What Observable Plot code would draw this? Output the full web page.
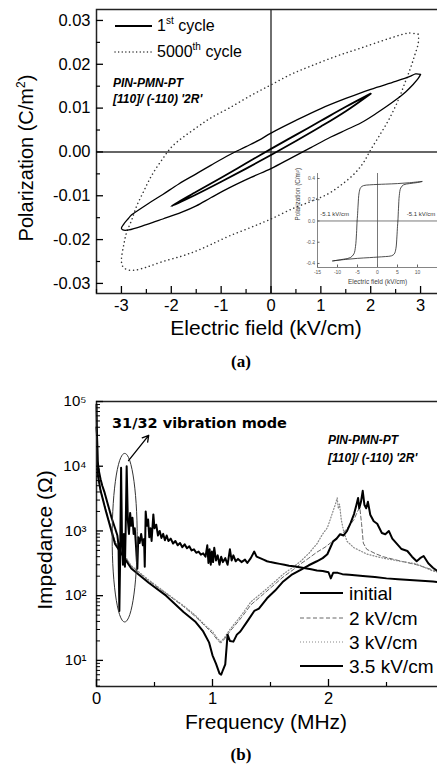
<!DOCTYPE html>
<html><head><meta charset="utf-8">
<script src="https://cdn.jsdelivr.net/npm/d3@7"></script>
<script src="https://cdn.jsdelivr.net/npm/@observablehq/plot@0.6"></script>
<style>
html,body{margin:0;padding:0;background:#fff;overflow:hidden}
#wrap{position:relative;width:437px;height:769px;overflow:hidden;font-family:"Liberation Sans",Arial,sans-serif;color:#000;background:#fff}
.abs{position:absolute;white-space:nowrap;line-height:1}
svg{max-width:none !important}
</style></head><body><div id="wrap"></div>
<script>
// ---------- Panel (a) data: E (kV/cm), P (C/m^2) ----------
const cycle1Outer = [[3.0,0.0177],[2.9,0.0178],[2.8,0.0173],[2.5,0.0161],[2.0,0.0143],[1.5,0.0122],[1.0,0.0099],[0.5,0.0072],[0,0.0043],[-0.24,0.0027],[-0.5,0.0012],[-0.84,-0.0007],[-1.2,-0.0030],[-1.5,-0.0050],[-1.85,-0.0073],[-2.17,-0.0097],[-2.45,-0.0117],[-2.7,-0.0136],[-2.8,-0.0144],[-2.87,-0.0153],[-2.95,-0.0164],[-3.0,-0.0174],[-2.97,-0.0178],[-2.85,-0.0178],[-2.5,-0.0166],[-2.17,-0.0153],[-1.8,-0.0138],[-1.5,-0.0123],[-1.2,-0.0104],[-0.84,-0.0082],[-0.4,-0.0058],[0,-0.0038],[0.4,-0.0014],[0.8,0.0010],[1.2,0.0034],[1.5,0.0050],[1.8,0.0066],[2.1,0.0087],[2.47,0.0116],[2.7,0.0137],[2.85,0.0154],[2.95,0.0167],[3.0,0.0177]];
const cycle1Inner = [[2.0,0.0133],[1.5,0.0103],[1.0,0.0071],[0.5,0.0039],[0,0.0007],[-0.5,-0.0026],[-1.0,-0.0059],[-1.5,-0.0091],[-2.0,-0.0124],[-1.5,-0.0097],[-1.0,-0.0068],[-0.5,-0.0038],[0,-0.0007],[0.5,0.0025],[1.0,0.0058],[1.5,0.0093],[2.0,0.0133]];
const cycle5000 = [[2.95,0.0269],[2.75,0.0271],[2.4,0.0260],[1.8,0.0237],[1.3,0.0218],[0.8,0.0196],[0.4,0.0177],[0,0.0153],[-0.4,0.0129],[-0.84,0.0100],[-1.2,0.0078],[-1.5,0.0055],[-1.97,0.0014],[-2.2,-0.0020],[-2.4,-0.0055],[-2.55,-0.0089],[-2.7,-0.0125],[-2.8,-0.0157],[-2.9,-0.0185],[-2.95,-0.0210],[-3.0,-0.0249],[-2.97,-0.0262],[-2.9,-0.0268],[-2.75,-0.0270],[-2.5,-0.0263],[-2.17,-0.0250],[-1.8,-0.0238],[-1.5,-0.0226],[-1.2,-0.0211],[-0.84,-0.0192],[-0.4,-0.0172],[0,-0.0153],[0.46,-0.0128],[0.8,-0.0113],[1.14,-0.0096],[1.4,-0.0076],[1.67,-0.0050],[1.85,-0.0025],[2.0,0.0005],[2.2,0.0042],[2.35,0.0071],[2.5,0.0105],[2.6,0.0132],[2.7,0.0162],[2.8,0.0192],[2.88,0.0220],[2.95,0.0246],[2.96,0.0262],[2.95,0.0269]];
// inset: E (kV/cm), P (C/m^2)
const insetLoop = [[-11.2,-0.376],[-8,-0.362],[-5,-0.352],[-2,-0.345],[0,-0.340],[2,-0.335],[3.5,-0.328],[4.2,-0.31],[4.6,-0.26],[4.85,-0.15],[5.0,-0.05],[5.1,0],[5.25,0.12],[5.45,0.24],[5.8,0.31],[6.5,0.34],[8,0.352],[10,0.362],[11.2,0.372],[8,0.360],[5,0.352],[2,0.347],[0,0.344],[-2,0.340],[-3.5,0.333],[-4.2,0.315],[-4.6,0.265],[-4.85,0.15],[-5.0,0.05],[-5.1,0],[-5.25,-0.12],[-5.5,-0.24],[-5.9,-0.31],[-6.8,-0.345],[-8.5,-0.36],[-11.2,-0.376]];
const insetNotes = [{x:-14.3, y:0.045, t:"-5.1 kV/cm"}, {x:7.3, y:0.045, t:"-5.1 kV/cm"}];
const aXMajor = [-3,-2,-1,0,1,2,3];
const aXMinor = [-3.5,-2.5,-1.5,-0.5,0.5,1.5,2.5,3.5];
const aYMajor = [-0.03,-0.02,-0.01,0,0.01,0.02,0.03];
const aYMinor = [-0.025,-0.015,-0.005,0.005,0.015,0.025];
const insetXTicks = [-15,-10,-5,0,5,10,15];
const insetXLabels = [-15,-10,-5,0,5,10];
const insetYTicks = [-0.4,-0.2,0,0.2,0.4];

// ---------- Panel (b) data: f (MHz), Z (ohm) ----------
const zInitial = [[0,90000],[0.004,30000],[0.01,12000],[0.02,8500],[0.035,6300],[0.05,5000],[0.07,3900],[0.1,2500],[0.13,1600],[0.16,1100],[0.18,850],[0.19,600],[0.197,58],[0.203,300],[0.212,9500],[0.22,700],[0.228,300],[0.236,900],[0.245,280],[0.252,1200],[0.26,10000],[0.27,1500],[0.28,900],[0.29,1900],[0.30,1200],[0.31,1600],[0.32,900],[0.33,1100],[0.34,600],[0.352,260],[0.36,800],[0.372,650],[0.385,900],[0.4,600],[0.41,750],[0.416,280],[0.424,2000],[0.435,1200],[0.445,1500],[0.455,800],[0.465,1100],[0.475,700],[0.49,1800],[0.5,1100],[0.515,1250],[0.53,850],[0.545,1000],[0.56,780],[0.575,900],[0.59,720],[0.605,850],[0.62,700],[0.64,760],[0.66,640],[0.68,700],[0.7,600],[0.72,650],[0.74,560],[0.76,620],[0.78,540],[0.8,580],[0.82,500],[0.84,520],[0.86,460],[0.88,480],[0.9,430],[0.92,450],[0.94,400],[0.955,600],[0.965,320],[0.975,520],[0.985,300],[0.995,480],[1.005,330],[1.015,550],[1.03,350],[1.045,420],[1.06,300],[1.075,400],[1.09,330],[1.11,380],[1.13,300],[1.15,520],[1.165,350],[1.18,420],[1.2,340],[1.22,370],[1.25,330],[1.28,360],[1.3,320],[1.33,380],[1.36,480],[1.38,400],[1.41,380],[1.44,360],[1.47,340],[1.5,330],[1.54,320],[1.58,310],[1.62,300],[1.66,290],[1.7,285],[1.75,275],[1.8,265],[1.85,255],[1.9,245],[1.95,240],[2.0,230],[2.02,185],[2.04,225],[2.08,225],[2.12,215],[2.18,210],[2.25,205],[2.32,200],[2.4,195],[2.5,185],[2.6,180],[2.7,175],[2.8,170],[2.9,165],[3.0,160]];
const z2kV = [[0.004,30000],[0.01,7700],[0.035,4250],[0.08,2100],[0.16,680],[0.3,285],[0.45,170],[0.6,108],[0.75,68],[0.85,48],[0.95,32],[1.0,26],[1.04,21],[1.07,18.5],[1.1,21],[1.15,28],[1.25,46],[1.33,72],[1.45,110],[1.61,195],[1.7,255],[1.76,310],[1.83,380],[1.9,470],[1.97,560],[2.03,680],[2.08,800],[2.13,950],[2.18,1200],[2.22,1500],[2.25,2000],[2.27,2300],[2.285,1300],[2.3,650],[2.33,520],[2.4,450],[2.47,400],[2.6,350],[2.76,300],[2.9,250],[3.0,220]];
const z3kV = [[0.004,30000],[0.01,7800],[0.035,4300],[0.08,2150],[0.16,700],[0.3,290],[0.45,175],[0.6,110],[0.75,70],[0.85,50],[0.95,33],[1.0,28],[1.04,22],[1.07,19.5],[1.1,22],[1.15,30],[1.25,50],[1.33,80],[1.45,120],[1.61,215],[1.7,280],[1.76,340],[1.83,450],[1.9,630],[1.95,900],[1.99,1120],[2.02,1600],[2.04,2040],[2.06,2600],[2.075,3240],[2.085,2200],[2.095,2600],[2.11,1500],[2.13,1000],[2.16,690],[2.22,550],[2.33,440],[2.47,380],[2.62,340],[2.76,310],[2.9,240],[3.0,220]];
const z35kV = [[0,40000],[0.004,31600],[0.01,7600],[0.035,4200],[0.08,2050],[0.16,630],[0.3,263],[0.45,158],[0.6,100],[0.75,56],[0.85,40],[0.92,28],[0.97,19],[1.0,12],[1.03,8.9],[1.06,6.3],[1.075,6.0],[1.09,7.1],[1.11,8.7],[1.13,25],[1.15,20],[1.18,19.5],[1.21,25],[1.24,28],[1.3,40],[1.36,58],[1.4,63],[1.47,91],[1.54,120],[1.61,166],[1.68,209],[1.76,250],[1.83,295],[1.9,340],[1.95,380],[1.99,436],[2.02,575],[2.04,690],[2.07,760],[2.1,890],[2.13,850],[2.16,1000],[2.19,1320],[2.22,1820],[2.24,2500],[2.255,3240],[2.265,2240],[2.28,2820],[2.295,4170],[2.31,2510],[2.325,2240],[2.34,2820],[2.36,1780],[2.39,1410],[2.42,1290],[2.46,930],[2.49,890],[2.52,1000],[2.55,760],[2.59,630],[2.63,525],[2.68,490],[2.72,400],[2.76,340],[2.79,380],[2.82,410],[2.86,316],[2.9,270],[2.95,234],[3.0,214]];
const bXMajor = [0,1,2,3];
const bXLabels = [0,1,2];
const bXMinor = [0.5,1.5,2.5];
const bYMajor = [10,100,1000,10000,100000];
const bYMinor = [4,5,6,7,8,9,20,30,40,50,60,70,80,90,200,300,400,500,600,700,800,900,2000,3000,4000,5000,6000,7000,8000,9000,20000,30000,40000,50000,60000,70000,80000,90000];
const legendB = [
  {name:"initial", stroke:"#000", w:2.2, dash:null},
  {name:"2 kV/cm", stroke:"#666", w:1, dash:"4,2.5"},
  {name:"3 kV/cm", stroke:"#888", w:1.2, dash:"1,2"},
  {name:"3.5 kV/cm", stroke:"#000", w:2.2, dash:null}
];
// annotation: ellipse around the 31/32 mode (centre f, half-width f, centre log10 Z, half-height in decades), and arrow
const modeEllipse = {f:0.243, rf:0.108, lz:2.896, rlz:1.302};
const modeArrow = [{f1:0.276, z1:12200, f2:0.45, z2:30000}];

const FONT = '"Liberation Sans", Arial, sans-serif';
const W = document.getElementById("wrap");
const X = d => d[0], Y = d => d[1];
const sup = {0:"⁰",1:"¹",2:"²",3:"³",4:"⁴",5:"⁵"};

function place(el, left, top) {
  el.style.position = "absolute"; el.style.left = left + "px"; el.style.top = top + "px";
  el.style.maxWidth = "none"; W.appendChild(el);
}
function text(html, x, y, style = {}, anchor = "start") {
  const d = document.createElement("div");
  d.className = "abs"; d.innerHTML = html;
  d.style.left = x + "px"; d.style.top = y + "px";
  const tx = anchor === "middle" ? "-50%" : anchor === "end" ? "-100%" : "0";
  d.style.transform = `translate(${tx},-50%)`;
  Object.assign(d.style, style);
  W.appendChild(d);
  return d;
}
function rotText(html, cx, cy, style) {
  const d = document.createElement("div");
  d.className = "abs"; d.innerHTML = html;
  d.style.left = cx + "px"; d.style.top = cy + "px";
  d.style.transform = "translate(-50%,-50%) rotate(-90deg)";
  Object.assign(d.style, style);
  W.appendChild(d);
}

// ---------- Panel (a) ----------
const plotA = Plot.plot({
  width: 445, height: 340, marginLeft: 96, marginRight: 0, marginTop: 9, marginBottom: 47,
  x: {domain: [-3.5, 3.5]},
  y: {domain: [-0.0323, 0.0325]},
  style: {fontFamily: FONT, fontSize: "16px", color: "#000", background: "transparent", overflow: "visible"},
  marks: [
    Plot.ruleX([0], {stroke: "#333", strokeWidth: 1.4}),
    Plot.ruleY([0], {stroke: "#333", strokeWidth: 1.4}),
    Plot.line(cycle5000, {x: X, y: Y, stroke: "#333", strokeWidth: 1.5, strokeDasharray: "0.1,4", strokeLinecap: "round", curve: "catmull-rom"}),
    Plot.line(cycle1Outer, {x: X, y: Y, stroke: "#000", strokeWidth: 1.3, curve: "catmull-rom"}),
    Plot.line(cycle1Inner, {x: X, y: Y, stroke: "#000", strokeWidth: 1.8, curve: "catmull-rom"}),
    Plot.frame({stroke: "#222", strokeWidth: 1.5}),
    Plot.axisX(aXMajor, {tickSize: -7, tickFormat: () => "", label: null, strokeWidth: 1.3}),
    Plot.axisX(aXMinor, {tickSize: -4, tickFormat: () => "", label: null, strokeWidth: 1.2}),
    Plot.axisX(aXMajor, {tickSize: 0, tickPadding: 6, tickFormat: d => String(d), label: null, fontSize: 16.5}),
    Plot.axisY(aYMajor, {tickSize: -7, tickFormat: () => "", label: null, strokeWidth: 1.3}),
    Plot.axisY(aYMinor, {tickSize: -4, tickFormat: () => "", label: null, strokeWidth: 1.2}),
    Plot.axisY(aYMajor, {tickSize: 0, tickPadding: 6, tickFormat: d => d.toFixed(2), label: null, fontSize: 16.5})
  ]
});
place(plotA, 0, 0);

// inset
const inset = Plot.plot({
  width: 157, height: 125, marginLeft: 27, marginRight: 10, marginTop: 8, marginBottom: 23,
  x: {domain: [-15, 15]},
  y: {domain: [-0.438, 0.447]},
  style: {fontFamily: FONT, fontSize: "5px", color: "#555", background: "transparent", overflow: "visible"},
  marks: [
    Plot.ruleX([0], {stroke: "#555", strokeWidth: 0.8}),
    Plot.ruleY([0], {stroke: "#555", strokeWidth: 0.8}),
    Plot.ruleX([-15], {stroke: "#666", strokeWidth: 0.8}),
    Plot.ruleY([-0.438], {stroke: "#666", strokeWidth: 0.8}),
    Plot.line(insetLoop, {x: X, y: Y, stroke: "#222", strokeWidth: 0.8, curve: "catmull-rom"}),
    Plot.text(insetNotes, {x: "x", y: "y", text: "t", textAnchor: "start", fontSize: 6, fill: "#333", lineAnchor: "bottom"}),
    Plot.axisX(insetXTicks, {tickSize: -2.5, tickFormat: () => "", label: null, stroke: "#666"}),
    Plot.axisX(insetXLabels, {tickSize: 0, tickPadding: 3, tickFormat: d => String(d), label: null, fontSize: 5}),
    Plot.axisY(insetYTicks, {tickSize: -2.5, tickPadding: 5, tickFormat: d => d.toFixed(1), label: null, fontSize: 5, stroke: "#666"}),
    Plot.text(["Electric field (kV/cm)"], {frameAnchor: "bottom", dy: 16, fontSize: 6.5, fill: "#444"}),
    Plot.text(["Polarization (C/m²)"], {frameAnchor: "left", dx: -20, rotate: -90, fontSize: 6.3, fill: "#444"})
  ]
});
place(inset, 290, 165);

// panel (a) texts
const legA = document.createElement("div");
legA.innerHTML = `<svg width="40" height="40" style="position:absolute;left:114px;top:18px;overflow:visible">
 <line x1="1" y1="8" x2="38" y2="8" stroke="#000" stroke-width="2"/>
 <line x1="1" y1="34" x2="38" y2="34" stroke="#333" stroke-width="1.4" stroke-dasharray="0.1,3.5" stroke-linecap="round"/></svg>`;
W.appendChild(legA);
text(`1<span style="font-size:10px;position:relative;top:-7px">st</span> cycle`, 157, 26, {fontSize: "16px"});
text(`5000<span style="font-size:10px;position:relative;top:-7px">th</span> cycle`, 157, 52, {fontSize: "16px"});
text("PIN-PMN-PT", 113, 83, {fontSize: "12px", fontWeight: "bold", fontStyle: "italic"});
text("[110]/ (-110) '2R'", 113, 99, {fontSize: "12px", fontWeight: "bold", fontStyle: "italic"});
text("Electric field (kV/cm)", 266, 327, {fontSize: "21px"}, "middle");
rotText(`Polarization (C/m<span style="font-size:12px;position:relative;top:-8px">2</span>)`, 26, 158, {fontSize: "20px"});
text("(a)", 241, 361, {fontSize: "17px", fontWeight: "bold", fontFamily: '"Liberation Serif", "Times New Roman", serif'}, "middle");

// ---------- Panel (b) ----------
const ell = d3.range(0, 361, 6).map(a => {
  const t = a * Math.PI / 180;
  return [modeEllipse.f + modeEllipse.rf * Math.cos(t), Math.pow(10, modeEllipse.lz + modeEllipse.rlz * Math.sin(t))];
});
const plotB = Plot.plot({
  width: 444, height: 345, marginLeft: 96, marginRight: 0, marginTop: 11, marginBottom: 49,
  x: {domain: [0, 3]},
  y: {type: "log", domain: [3.95, 1e5]},
  style: {fontFamily: FONT, fontSize: "16px", color: "#000", background: "transparent", overflow: "visible"},
  marks: [
    Plot.line(z2kV, {x: X, y: Y, stroke: "#666", strokeWidth: 1, strokeDasharray: "4,2.5"}),
    Plot.line(z3kV, {x: X, y: Y, stroke: "#888", strokeWidth: 1.2, strokeDasharray: "1,2"}),
    Plot.line(zInitial, {x: X, y: Y, stroke: "#000", strokeWidth: 2}),
    Plot.line(z35kV, {x: X, y: Y, stroke: "#000", strokeWidth: 2}),
    Plot.line(ell, {x: X, y: Y, stroke: "#333", strokeWidth: 1, curve: "catmull-rom"}),
    Plot.arrow(modeArrow, {x1: "f1", y1: "z1", x2: "f2", y2: "z2", stroke: "#000", strokeWidth: 1.3, headLength: 8}),
    Plot.frame({stroke: "#222", strokeWidth: 1.5}),
    Plot.axisX(bXMajor, {tickSize: -7, tickFormat: () => "", label: null, strokeWidth: 1.3}),
    Plot.axisX(bXMinor, {tickSize: -4, tickFormat: () => "", label: null, strokeWidth: 1.2}),
    Plot.axisX(bXLabels, {tickSize: 0, tickPadding: 6, tickFormat: d => String(d), label: null, fontSize: 16.5}),
    Plot.axisY(bYMajor, {tickSize: -7, tickFormat: () => "", label: null, strokeWidth: 1.3}),
    Plot.axisY(bYMinor, {tickSize: -4, tickFormat: () => "", label: null, strokeWidth: 1}),
    Plot.axisY(bYMajor, {tickSize: 0, tickPadding: 10, tickFormat: d => "10" + sup[Math.round(Math.log10(d))], label: null, fontSize: 15})
  ]
});
place(plotB, 0, 390);

text("31/32 vibration mode", 112, 423, {fontSize: "14.5px", fontWeight: "bold", fontFamily: '"DejaVu Sans", Verdana, sans-serif'});
text("PIN-PMN-PT", 328, 440, {fontSize: "12px", fontWeight: "bold", fontStyle: "italic"});
text("[110]/ (-110) '2R'", 328, 458, {fontSize: "12px", fontWeight: "bold", fontStyle: "italic"});
const legYs = [593, 618, 642, 666];
legendB.forEach((e, i) => {
  const s = document.createElementNS("http://www.w3.org/2000/svg", "svg");
  s.setAttribute("width", 46); s.setAttribute("height", 6);
  s.style.position = "absolute"; s.style.left = "299px"; s.style.top = (legYs[i] - 3) + "px";
  s.innerHTML = `<line x1="1" y1="3" x2="44" y2="3" stroke="${e.stroke}" stroke-width="${e.w}" ${e.dash ? `stroke-dasharray="${e.dash}"` : ""}/>`;
  W.appendChild(s);
  text(e.name, 349, legYs[i], {fontSize: "19px"});
});
text("Frequency (MHz)", 266, 721, {fontSize: "21px"}, "middle");
rotText("Impedance (Ω)", 44, 540, {fontSize: "21px"});
text("(b)", 241, 754, {fontSize: "17px", fontWeight: "bold", fontFamily: '"Liberation Serif", "Times New Roman", serif'}, "middle");
</script></body></html>
